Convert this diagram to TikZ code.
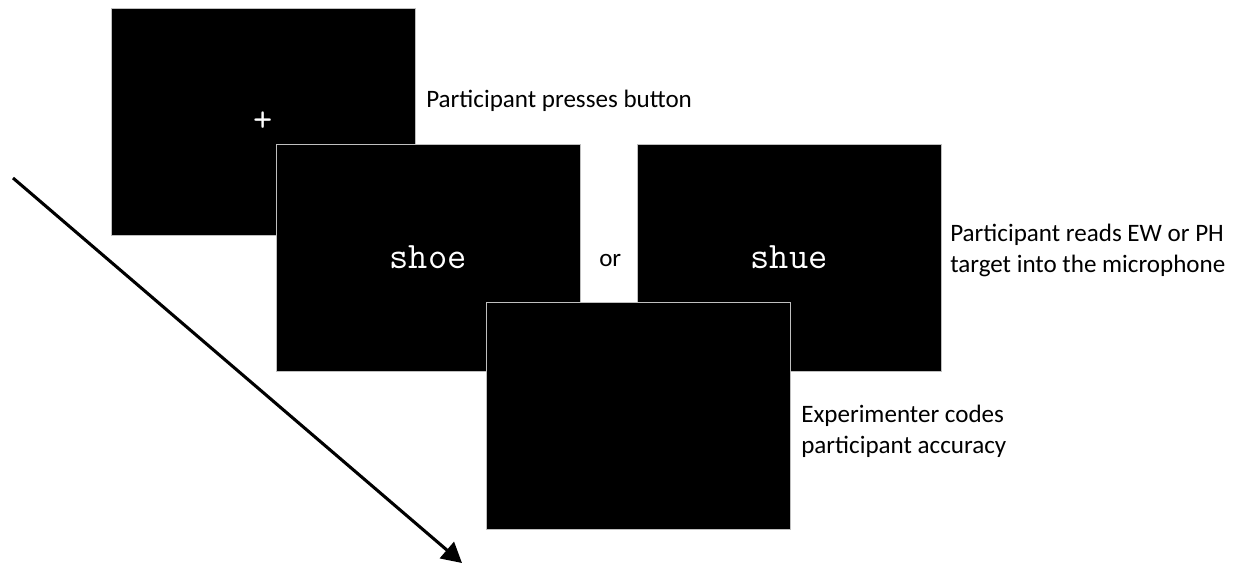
\documentclass[tikz,border=0pt]{standalone}
\usepackage{fontspec}
\setmainfont{Carlito}
\usetikzlibrary{arrows.meta}
\begin{document}
\begin{tikzpicture}[x=0.75pt,y=-0.75pt,
  screen/.style={fill=black,draw=black!25,line width=0.75pt,minimum width=228pt,minimum height=170.25pt,inner sep=0pt,text=white,font=\ttfamily\fontsize{28}{30}\selectfont},
  label/.style={anchor=base west,align=left,inner sep=0pt,font=\fontsize{18.8}{23}\selectfont},
  timearrow/.style={line width=2.3pt,-{Triangle[length=15pt,width=16pt]}}]
\useasboundingbox (0,0) rectangle (1244,565);
\node[screen] (s1) at (263,121.5) {+};
\node[screen] (s2) at (428,257.5) {shoe};
\node[screen] (s3) at (789,257.5) {shue};
\node[screen] (s4) at (638,415.5) {};
\node[label] (t1) at (426,107) {Participant presses button};
\node[label] (or) at (599,266.5) {or};
\node[label] (t2) at (950,272.5) {Participant reads EW or PH\\target into the microphone};
\node[label] (t3) at (801,453.5) {Experimenter codes\\participant accuracy};
\coordinate (a0) at (13,178);
\coordinate (a1) at (462,563);
\draw[timearrow] (a0) -- (a1);
\end{tikzpicture}
\end{document}
